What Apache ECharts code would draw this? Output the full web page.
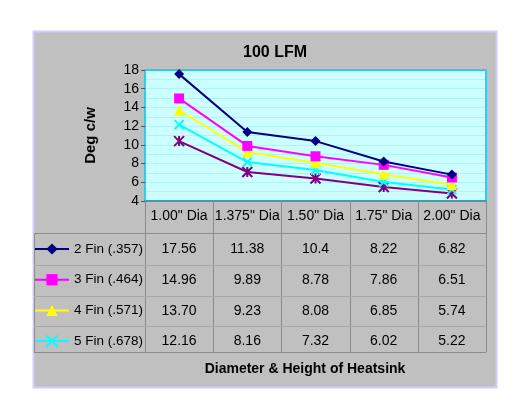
<!DOCTYPE html>
<html>
<head>
<meta charset="utf-8">
<script src="https://cdn.jsdelivr.net/npm/echarts@6/dist/echarts.min.js"></script>
<style>html,body{margin:0;padding:0;background:#fff}#c{width:524px;height:393px}</style>
</head>
<body>
<div id="c"></div>
<script>
const categories = ['1.00" Dia', '1.375" Dia', '1.50" Dia', '1.75" Dia', '2.00" Dia'];
const seriesNames = ['2 Fin (.357)', '3 Fin (.464)', '4 Fin (.571)', '5 Fin (.678)'];
const fin2 = ['17.56', '11.38', '10.4', '8.22', '6.82'];
const fin3 = ['14.96', '9.89', '8.78', '7.86', '6.51'];
const fin4 = ['13.70', '9.23', '8.08', '6.85', '5.74'];
const fin5 = ['12.16', '8.16', '7.32', '6.02', '5.22'];
const fin6 = [10.4, 7.1, 6.4, 5.5, 4.8]; // fifth line, row not shown in table
const yMin = 4, yMax = 18, yStep = 2;

const rows = [fin2, fin3, fin4, fin5];
const colors = ['#000080', '#ff00ff', '#ffff00', '#00ffff', '#800080'];
const symbols = ['diamond', 'rect', 'triangle',
  'path://M0,0L10,10M10,0L0,10',
  'path://M0,0L10,10M10,0L0,10M5,0L5,10'];
const symbolSizes = [10, 10, 11, 9, 10];
const FONT = '"Liberation Sans", Arial, sans-serif';

const chart = echarts.init(document.getElementById('c'), null, {renderer: 'canvas'});

const allData = [fin2, fin3, fin4, fin5, fin6].map(a => a.map(Number));
const names = seriesNames.concat(['6 Fin']);

const series = allData.map((d, i) => ({
  name: names[i],
  type: 'line',
  data: d,
  xAxisIndex: 0,
  yAxisIndex: 0,
  symbol: symbols[i],
  symbolSize: symbolSizes[i],
  showAllSymbol: true,
  lineStyle: {color: colors[i], width: 2},
  itemStyle: {color: colors[i], borderColor: colors[i], borderWidth: i >= 3 ? 2 : 0},
  emphasis: {disabled: true},
  z: 10 - i
}));

const rowOffsets = [33, 64, 95, 125];
const xAxes = [{
  type: 'category', gridIndex: 0, data: categories, position: 'bottom',
  axisLine: {show: true, lineStyle: {color: '#3a9fb0', width: 2}},
  axisTick: {show: false},
  axisLabel: {color: '#000', fontSize: 14, fontFamily: FONT, margin: 8, interval: 0}
}];
rows.forEach((r, k) => {
  xAxes.push({
    type: 'category', gridIndex: 0, data: categories, position: 'bottom', offset: rowOffsets[k],
    axisLine: {show: false}, axisTick: {show: false}, splitLine: {show: false},
    axisLabel: {color: '#000', fontSize: 14, fontFamily: FONT, margin: 8, interval: 0,
      formatter: (v, idx) => r[idx]}
  });
});

chart.setOption({
  animation: false,
  backgroundColor: '#ffffff',
  title: [
    {text: '100 LFM', left: 270, top: 40, textAlign: 'center',
      textStyle: {fontSize: 16, fontWeight: 'bold', fontFamily: FONT, color: '#000'}},
    {text: 'Diameter & Height of Heatsink', left: 300, top: 357, textAlign: 'center',
      textStyle: {fontSize: 14, fontWeight: 'bold', fontFamily: FONT, color: '#000'}}
  ],
  legend: {
    data: seriesNames,
    orient: 'vertical',
    left: 34, top: 242, padding: 0,
    itemWidth: 34, itemHeight: 14, itemGap: 16.7,
    selectedMode: false,
    textStyle: {fontSize: 13.5, fontFamily: FONT, color: '#000'}
  },
  grid: {
    left: 145, top: 70, right: 38, bottom: 192,
    show: true, backgroundColor: '#ccffff', borderColor: '#33ccee', borderWidth: 2,
    containLabel: false
  },
  xAxis: xAxes,
  yAxis: {
    type: 'value', min: yMin, max: yMax, interval: yStep,
    name: 'Deg c/w', nameLocation: 'middle', nameRotate: 90, nameGap: 47,
    nameTextStyle: {fontSize: 15, fontWeight: 'bold', fontFamily: FONT, color: '#000'},
    axisLine: {show: false},
    axisTick: {show: true, length: 4, lineStyle: {color: '#555'}},
    axisLabel: {color: '#000', fontSize: 14, fontFamily: FONT, margin: 6},
    splitLine: {show: true, lineStyle: {color: 'rgba(0,160,210,0.13)', width: 1}},
    minorTick: {show: false, splitNumber: 2},
    minorSplitLine: {show: true, lineStyle: {color: 'rgba(0,160,210,0.13)', width: 1}}
  },
  series: series
});

// table borders
const c0 = chart.convertToPixel({xAxisIndex: 0}, 0);
const c1 = chart.convertToPixel({xAxisIndex: 0}, 1);
const half = (c1 - c0) / 2;
const plotBottom = chart.convertToPixel({yAxisIndex: 0}, yMin);
const tableLeft = 34;
const hdrBottom = 233;
const rowLines = [264.5, 295.5, 326];
const tableBottom = 352;
const edges = categories.map((c, i) => chart.convertToPixel({xAxisIndex: 0}, i) - half);
edges.push(chart.convertToPixel({xAxisIndex: 0}, categories.length - 1) + half);
const right = edges[edges.length - 1];

const g = [];
g.push({type: 'rect', z: -10, shape: {x: 33.5, y: 31.5, width: 463, height: 356},
  style: {fill: '#c0c0c0', stroke: '#d0ccff', lineWidth: 2}});
edges.forEach((x, i) => {
  g.push({type: 'line', z: 5, shape: {x1: Math.round(x) + 0.5, y1: plotBottom, x2: Math.round(x) + 0.5, y2: tableBottom},
    style: {stroke: '#8c8c8c', lineWidth: 1}});
});
g.push({type: 'line', z: 5, shape: {x1: tableLeft + 0.5, y1: hdrBottom, x2: tableLeft + 0.5, y2: tableBottom},
  style: {stroke: '#8c8c8c', lineWidth: 1}});
g.push({type: 'line', z: 5, shape: {x1: tableLeft, y1: hdrBottom + 0.5, x2: right, y2: hdrBottom + 0.5},
  style: {stroke: '#8c8c8c', lineWidth: 1}});
rowLines.forEach(y => {
  g.push({type: 'line', z: 5, shape: {x1: tableLeft, y1: Math.round(y) + 0.5, x2: right, y2: Math.round(y) + 0.5},
    style: {stroke: '#a8a8a8', lineWidth: 1}});
});
g.push({type: 'line', z: 5, shape: {x1: tableLeft, y1: tableBottom + 0.5, x2: right, y2: tableBottom + 0.5},
  style: {stroke: '#8c8c8c', lineWidth: 1}});
chart.setOption({graphic: g});
</script>
</body>
</html>
